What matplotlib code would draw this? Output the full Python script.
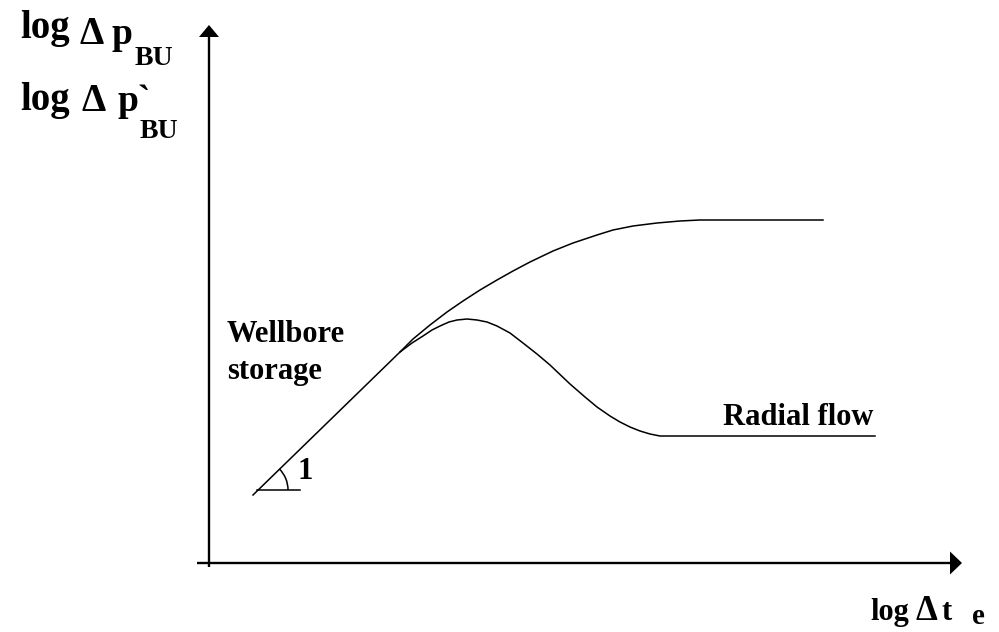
import matplotlib
matplotlib.use("Agg")
import matplotlib.pyplot as plt
from matplotlib.patches import Arc, Polygon

# Schematic log-log buildup diagnostic plot (units: log cycles, arbitrary origin)
log_dt_pressure = [0.44, 1.91, 2.04, 2.21, 2.38, 2.54, 2.71, 2.88, 3.04, 3.21, 3.44, 3.64,
                   3.88, 4.04, 4.24, 4.48, 4.71, 4.91, 6.14]
log_dp_pressure = [0.68, 2.11, 2.24, 2.38, 2.51, 2.62, 2.73, 2.83, 2.92, 3.01, 3.12, 3.20,
                   3.28, 3.33, 3.37, 3.40, 3.42, 3.43, 3.43]

log_dt_derivative = [1.91, 2.03, 2.14, 2.23, 2.31, 2.40, 2.48, 2.58, 2.68, 2.78, 2.88, 3.01,
                     3.14, 3.28, 3.41, 3.61, 3.76, 3.88, 4.01, 4.11, 4.21, 4.31, 4.41, 4.51,
                     6.66]
log_dp_derivative = [2.11, 2.20, 2.27, 2.33, 2.37, 2.41, 2.43, 2.44, 2.43, 2.41, 2.37, 2.30,
                     2.20, 2.09, 1.98, 1.79, 1.66, 1.56, 1.47, 1.41, 1.36, 1.32, 1.29, 1.27,
                     1.27]

W, H = 999, 632
fig = plt.figure(figsize=(W / 100, H / 100), dpi=100)
ax = fig.add_axes([0, 0, 1, 1])
ax.set_xlim(-2.09, 7.90)
ax.set_ylim(-0.69, 5.63)
ax.axis("off")

serif = "Liberation Serif"

# axes with arrow heads
ax.plot([-0.12, 7.41], [0, 0], color="black", lw=1.7, solid_capstyle="butt")
ax.plot([0, 0], [-0.04, 5.26], color="black", lw=1.7, solid_capstyle="butt")
ax.add_patch(Polygon([[7.41, 0.115], [7.53, 0.0], [7.41, -0.115]], closed=True,
                     color="black", lw=0))
ax.add_patch(Polygon([[-0.10, 5.26], [0.0, 5.38], [0.10, 5.26]], closed=True,
                     color="black", lw=0))

# pressure change and derivative curves
ax.plot(log_dt_pressure, log_dp_pressure, color="black", lw=1.1, solid_joinstyle="round")
ax.plot(log_dt_derivative, log_dp_derivative, color="black", lw=1.1, solid_joinstyle="round")

# unit-slope marker
ax.plot([0.48, 0.91], [0.73, 0.73], color="black", lw=1.1)
ax.add_patch(Arc((0.49, 0.73), 0.60, 0.60, theta1=0, theta2=45, color="black", lw=1.1))
ax.text(0.89, 0.84, "1", family=serif, weight="bold", fontsize=22, ha="left", va="baseline")


def px(x, y):
    return x / W, 1 - y / H


def label(x, y, s, size):
    fig.text(*px(x, y), s, family=serif, weight="bold", fontsize=size,
             ha="left", va="baseline")


# vertical-axis title: pressure change and its derivative
label(20, 38, "log", 28)
label(80, 44, "Δ", 28)
label(111, 44, "p", 27)
label(135, 65, "BU", 20)

label(20, 110, "log", 28)
label(82, 111, "Δ", 28)
label(117, 111, "p`", 27)
label(140, 138, "BU", 20)

# flow-regime annotations
label(227, 342, "Wellbore", 22)
label(227, 379, "storage", 22)
label(723, 425, "Radial flow", 22)

# horizontal-axis title: equivalent time
label(870, 620, "log", 22)
label(915, 620, "Δ", 25)
label(941, 620, "t", 22)
label(972, 624, "e", 21)

fig.savefig("out.png", dpi=100, facecolor="white")
